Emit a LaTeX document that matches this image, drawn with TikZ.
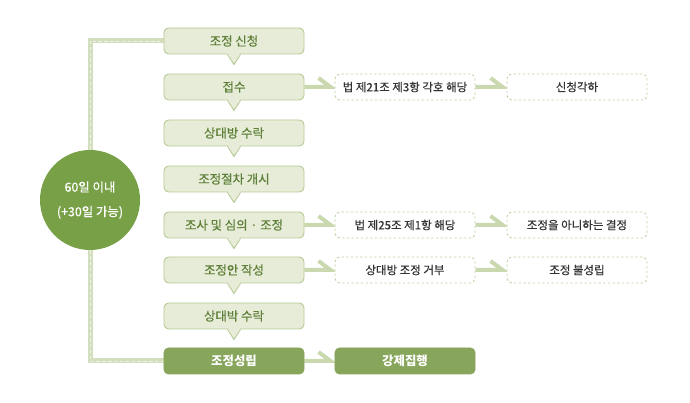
\documentclass[tikz,border=0pt]{standalone}
\usepackage{fontspec}
\newfontfamily\krfont[FakeBold=0.5]{Noto Sans CJK KR}
\newfontfamily\krbold{Noto Sans CJK KR}
\usetikzlibrary{calc,backgrounds}
\definecolor{stagefill}{HTML}{E6ECD8}
\definecolor{stageline}{HTML}{B7CA95}
\definecolor{stagetext}{HTML}{5E7F37}
\definecolor{optline}{HTML}{C3D2A5}
\definecolor{flowline}{HTML}{C9D8AE}
\definecolor{finalfill}{HTML}{87A55B}
\definecolor{periodfill}{HTML}{78A046}
\definecolor{bracketline}{HTML}{D2DEBD}
\tikzset{
  stagebox/.style={draw=stageline,fill=stagefill,rounded corners=4pt,line width=0.8pt,
    minimum width=4.2cm,minimum height=0.78cm,text=stagetext,
    font=\krfont\fontsize{10.6}{12}\selectfont},
  finalbox/.style={stagebox,draw=finalfill,fill=finalfill,text=white,
    font=\krbold\bfseries\fontsize{10.6}{12}\selectfont},
  optbox/.style={draw=optline,fill=white,dashed,dash pattern=on 2pt off 2pt,rounded corners=4pt,
    line width=0.8pt,minimum width=4.2cm,minimum height=0.78cm,text=black!80,
    font=\krfont\fontsize{9.8}{11}\selectfont},
  period/.style={circle,fill=periodfill,minimum size=3cm,inner sep=0pt,text=white,align=center,
    font=\krfont\fontsize{10.6}{21}\selectfont},
  flow/.style={draw=flowline,line width=0.12cm,line join=miter},
  bracket/.style={draw=white!60!bracketline,line width=0.6pt,dash pattern=on 3pt off 2pt,
    preaction={draw=bracketline,line width=0.15cm,solid}}
}
% pointer under a stage box
\newcommand\notch[1]{%
  \fill[stagefill] ($(#1.south)+(-6,-1.5)$) -- ($(#1.south)+(0,10)$) -- ($(#1.south)+(6,-1.5)$) -- cycle;
  \draw[stageline,line width=0.8pt] ($(#1.south)+(-6.5,0)$) -- ($(#1.south)+(0,10)$) -- ($(#1.south)+(6.5,0)$);}
\begin{document}
\begin{tikzpicture}[x=0.03cm,y=-0.03cm]
\useasboundingbox (0,0) rectangle (690,403);
% main column
\node[stagebox] (apply) at (234,41) {조정 신청};
\node[stagebox] (accept) at (234,87) {접수};
\node[stagebox] (agree) at (234,133) {상대방 수락};
\node[stagebox] (start) at (234,179) {조정절차 개시};
\node[stagebox] (review) at (234,225) {조사 및 심의 · 조정};
\node[stagebox] (draft) at (234,270) {조정안 작성};
\node[stagebox] (consent) at (234,316) {상대박 수락};
\node[finalbox] (settle) at (234,361) {조정성립};
\foreach \n in {apply,accept,agree,start,review,draft,consent} {\notch{\n}}
% branches
\node[optbox] (art21) at (405,87) {법 제21조 제3항 각호 해당};
\node[optbox] (dismiss) at (577,87) {신청각하};
\node[optbox] (art25) at (405,225) {법 제25조 제1항 해당};
\node[optbox] (nodecide) at (577,225) {조정을 아니하는 결정};
\node[optbox] (refuse) at (405,270) {상대방 조정 거부};
\node[optbox] (fail) at (577,270) {조정 불성립};
\node[finalbox] (enforce) at (405,361) {강제집행};
% time limit
\node[period] (limit) at (90,200) {60일 이내\\(+30일 가능)};
\begin{scope}[on background layer]
  \draw[bracket] (limit) |- (apply);
  \draw[bracket] (limit) |- (settle);
  \draw[flow] (accept) -- ($(art21.west)+(-4,0)$) -- ++(-12,-9);
  \draw[flow] (art21) -- ($(dismiss.west)+(-4,0)$) -- ++(-12,-9);
  \draw[flow] (review) -- ($(art25.west)+(-4,0)$) -- ++(-12,-9);
  \draw[flow] (art25) -- ($(nodecide.west)+(-4,0)$) -- ++(-12,-9);
  \draw[flow] (draft) -- ($(refuse.west)+(-4,0)$) -- ++(-12,-9);
  \draw[flow] (refuse) -- ($(fail.west)+(-4,0)$) -- ++(-12,-9);
  \draw[flow] (settle) -- ($(enforce.west)+(-4,0)$) -- ++(-12,-9);
\end{scope}
\end{tikzpicture}
\end{document}
